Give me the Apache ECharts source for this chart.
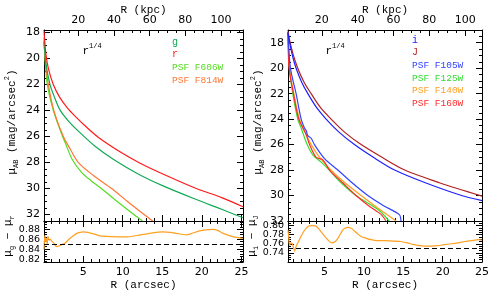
<!DOCTYPE html>
<html><head><meta charset="utf-8">
<script src="https://cdn.jsdelivr.net/npm/echarts@6.0.0/dist/echarts.min.js"></script>
<style>html,body{margin:0;padding:0;background:#fff}#c{width:492px;height:295px}</style>
</head><body><div id="c"></div>
<script>
// ---------- Left panel data (R in arcsec, surface brightness in mag/arcsec^2) ----------
const rR    = [0.05,0.3,0.6,1.2,2.0,3.0,4.0,5.2,6.9,9.6,12.2,15.5,19.3,22.5,25.2];
const rMag  = [17.9,19.7,20.75,21.95,22.95,23.8,24.45,25.15,26.05,27.15,28.05,29.0,30.0,30.7,31.4];
const gR    = [0.05,0.3,0.81,1.3,2.07,3.2,4.59,6.5,8.8,12.0,15.1,19.3,22.5,25.2];
const gMag  = [18.7,20.4,22.0,22.85,23.95,24.85,25.7,26.75,27.75,28.9,29.8,30.85,31.6,32.25];
const f606R   = [0.05,0.18,0.47,1.23,2.4,2.75,3.6,4.8,6.0,7.3,9.3,11.4,12.5];
const f606Mag = [18.4,20.0,22.0,24.0,26.0,26.5,27.75,28.75,29.4,30.0,31.0,32.0,32.5];
const f814R   = [0.05,0.2,0.6,1.3,2.5,3.4,4.4,6.3,8.6,10.6,12.7,13.8];
const f814Mag = [18.6,20.0,22.0,24.0,26.0,27.0,28.0,29.0,30.0,31.0,32.0,32.5];
// colour g - r
const grR   = [0.05,0.15,0.25,0.35,0.45,0.55,0.7,0.85,1.0,1.3,1.65,2.0,2.7,3.2,3.75,4.2,4.6,5.0,5.6,6.7,7.1,8.0,9.6,10.6,12.0,13.4,15.1,16.0,16.8,18.0,18.6,19.7,20.5,21.4,22.0,22.7,24.0,25.2];
const grVal = [0.84,0.868,0.855,0.862,0.85,0.866,0.858,0.86,0.857,0.852,0.845,0.847,0.852,0.86,0.867,0.872,0.874,0.875,0.874,0.869,0.867,0.866,0.865,0.865,0.868,0.872,0.875,0.874,0.872,0.869,0.871,0.877,0.879,0.88,0.878,0.872,0.865,0.862];

// ---------- Right panel data ----------
const iR    = [0.36,0.6,1.0,1.39,2.1,2.88,4.0,5.2,6.8,8.8,11.2,13.9,17.8,22.4,25.0];
const iMag  = [17.2,18.1,19.2,20.0,21.1,22.0,23.1,24.0,25.0,26.0,27.0,28.0,29.0,30.0,30.4];
const jR    = [0.36,0.6,1.0,1.6,2.4,3.3,4.5,5.84,7.5,9.65,12.3,15.2,19.6,25.0];
const jMag  = [17.1,17.9,18.9,20.0,21.1,22.0,23.1,24.0,25.0,26.0,27.0,28.0,29.0,30.05];
const f105R   = [0.36,0.67,1.39,2.03,2.45,2.67,2.88,3.3,3.72,5.0,6.69,8.5,10.5,12.5,14.5,14.7];
const f105Mag = [17.2,20.0,22.0,24.0,24.7,24.9,25.3,25.5,26.0,27.1,28.0,29.0,30.0,30.8,31.5,32.0];
const f125R   = [0.36,0.55,0.97,1.6,2.03,2.8,3.5,4.6,5.6,7.1,9.2,11.8,13.2];
const f125Mag = [17.2,20.0,22.0,24.0,24.7,26.0,26.8,27.4,28.0,29.0,30.1,31.1,32.0];
const f140R   = [0.36,0.55,1.1,1.82,2.66,3.3,4.5,5.84,7.6,9.65,11.8,14.1];
const f140Mag = [17.2,20.0,22.0,24.0,25.2,26.0,27.1,28.0,29.0,30.0,31.0,32.0];
const f160R   = [0.36,0.5,1.05,1.73,2.66,3.1,3.94,4.78,5.63,7.3,9.0,10.6,12.2,12.8];
const f160Mag = [17.2,20.0,22.0,24.0,25.2,26.0,27.0,27.2,28.0,29.0,30.0,30.8,31.5,32.0];
// colour i - J
const ijR   = [0.36,0.45,0.55,0.7,0.9,1.05,1.2,1.4,1.7,2.0,2.4,2.7,3.0,3.3,3.6,3.9,4.3,4.57,5.0,5.4,5.9,6.3,6.7,7.0,7.3,7.6,7.95,8.4,8.8,9.2,9.65,10.3,10.9,11.7,12.6,13.6,14.7,15.5,16.4,17.0,17.7,18.5,19.4,20.2,21.1,22.0,22.8,23.7,24.5,25.0];
const ijVal = [0.79,0.775,0.757,0.762,0.76,0.752,0.744,0.755,0.765,0.776,0.788,0.795,0.799,0.8,0.8,0.799,0.792,0.786,0.777,0.769,0.762,0.764,0.772,0.781,0.79,0.794,0.796,0.794,0.788,0.782,0.776,0.772,0.769,0.767,0.767,0.766,0.765,0.762,0.758,0.756,0.755,0.755,0.756,0.758,0.76,0.762,0.765,0.767,0.769,0.768];

// ---------- ticks ----------
const arcsecTicks = [5,10,15,20,25];
const kpcTicks = [20,40,60,80,100];
const magTicks = [18,20,22,24,26,28,30,32];
const grTicks = [0.82,0.84,0.86,0.88];
const ijTicks = [0.74,0.76,0.78,0.80];
const refLevels = [0.85, 0.75];

// ---------- layout ----------
const grids = [
  {left:44, top:30, width:199, height:191},
  {left:44, top:221, width:199, height:41},
  {left:288, top:30, width:194, height:191},
  {left:288, top:221, width:194, height:41}
];
const xRange = [[0.05,25.2],[0.05,25.2],[0.36,25.0],[0.36,25.0]];
const kpcRange = [[0.8,112.3],null,[1.1,109.4],null];
const yRange = [[17.8,32.5],[0.814,0.897],[17.0,32.0],[0.72,0.81]];

function steps(min, max, step) {
  const out = [];
  for (let v = Math.ceil(min/step - 1e-9)*step; v <= max + 1e-9; v += step) out.push(+v.toFixed(4));
  return out;
}
function pair(gi, pos, min, max, majors, minors, labels, inverse, margin, fmt, fs, interval) {
  const base = {type:'value', gridIndex:gi, position:pos, min:min, max:max, inverse:!!inverse,
    splitLine:{show:false}, minorTick:{show:false}, axisPointer:{show:false}, scale:true};
  const tick = {show:true, inside:true, length:6, lineStyle:{color:'#000', width:1}};
  const lab = {show:labels, margin:margin, formatter:fmt||(v=>String(v)),
      showMinLabel:true, showMaxLabel:true, hideOverlap:false,
      fontFamily:'DejaVu Sans', fontSize:fs||11, lineHeight:fs < 10 ? 8 : 13, color:'#000'};
  const major = Object.assign({}, base, {
    axisLine:{show:true, onZero:false, lineStyle:{color:'#000', width:1}},
    axisTick:tick, axisLabel:lab
  });
  if (interval) {
    major.interval = interval;
    lab.formatter = v => (majors.some(m => Math.abs(m - v) < 1e-6) ? fmt(v) : '');
  } else {
    tick.customValues = majors;
    lab.customValues = majors;
  }
  const minor = Object.assign({}, base, {
    axisLine:{show:false, onZero:false},
    axisTick:{show:true, inside:true, length:3, customValues:minors, lineStyle:{color:'#000', width:1}},
    axisLabel:{show:false}
  });
  return [major, minor];
}
const xAxes = [], yAxes = [];
for (let gi = 0; gi < 4; gi++) {
  const upper = gi % 2 === 0;
  const [x0, x1] = xRange[gi];
  xAxes.push(...pair(gi, 'bottom', x0, x1, arcsecTicks, steps(x0, x1, 1), !upper, false, 4, null, 11));
  if (upper) {
    const [k0, k1] = kpcRange[gi];
    xAxes.push(...pair(gi, 'top', k0, k1, kpcTicks, steps(k0, k1, 5), true, false, 3, null, 11));
  } else {
    xAxes.push(...pair(gi, 'top', x0, x1, arcsecTicks, steps(x0, x1, 1), false, false, 4, null, 11));
  }
  const [y0, y1] = yRange[gi];
  const maj = upper ? magTicks : (gi === 1 ? grTicks : ijTicks);
  const minStep = upper ? 0.5 : 0.005;
  const fmt = upper ? (v => String(v)) : (v => v.toFixed(2));
  const fs = upper ? 11 : 9.5;
  const iv = gi === 3 ? 0.02 : null;
  yAxes.push(...pair(gi, 'left', y0, y1, maj, steps(y0, y1, minStep), true, upper, 4, fmt, fs, iv));
  yAxes.push(...pair(gi, 'right', y0, y1, maj, steps(y0, y1, minStep), false, upper, 4, fmt, fs, iv));
}

function zip(a, b) { return a.map((v, i) => [v, b[i]]); }
function line(gi, name, xs, ys, color, extra) {
  return Object.assign({type:'line', name:name, xAxisIndex:gi*4, yAxisIndex:gi*4, data:zip(xs, ys),
    showSymbol:false, symbol:'none', clip:true, smooth:0.3,
    lineStyle:{color:color, width:1.2}, itemStyle:{color:color}, z:3}, extra||{});
}
function dashed(v) {
  return {silent:true, symbol:['none','none'], label:{show:false}, animation:false,
    lineStyle:{type:[5,3], color:'#000', width:1}, data:[{yAxis:v}]};
}
const C = {g:'#11aa55', r:'#ff1a1a', f606:'#55dd22', f814:'#ff7733', orange:'#ffa020',
  i:'#2020ff', J:'#b22222', f105:'#3344ff', f125:'#33dd33', f140:'#ffa020', f160:'#ff2a2a'};

const series = [
  line(0, 'PSF F606W', f606R, f606Mag, C.f606),
  line(0, 'PSF F814W', f814R, f814Mag, C.f814),
  line(0, 'g', gR, gMag, C.g),
  line(0, 'r', rR, rMag, C.r),
  line(1, 'g-r', grR, grVal, C.orange, {smooth:0.2, markLine:dashed(refLevels[0])}),
  line(2, 'PSF F125W', f125R, f125Mag, C.f125),
  line(2, 'PSF F140W', f140R, f140Mag, C.f140),
  line(2, 'PSF F160W', f160R, f160Mag, C.f160),
  line(2, 'PSF F105W', f105R, f105Mag, C.f105),
  line(2, 'J', jR, jMag, C.J),
  line(2, 'i', iR, iMag, C.i),
  line(3, 'i-J', ijR, ijVal, C.orange, {smooth:0.2, markLine:dashed(refLevels[1])})
];

const MONO = 'Liberation Mono';
function txt(x, y, text, color, size, align) {
  return {type:'text', x:x, y:y, silent:true, z:10,
    style:{text:text, fill:color, font: size + 'px "' + MONO + '"', textAlign:align||'left', textVerticalAlign:'middle'}};
}
function rtxt(x, y, text, rich, rot) {
  return {type:'text', x:x, y:y, rotation:rot||0, silent:true, z:10,
    style:{text:text, rich:rich, fill:'#000', textAlign:'center', textVerticalAlign:'middle'}};
}
const richY = {
  m:{fontFamily:MONO, fontSize:11, lineHeight:16, fill:'#000', verticalAlign:'middle'},
  s:{fontFamily:MONO, fontSize:7, lineHeight:16, fill:'#000', verticalAlign:'bottom'},
  p:{fontFamily:MONO, fontSize:7, lineHeight:16, fill:'#000', verticalAlign:'top'}
};
const richQ = {
  m:{fontFamily:MONO, fontSize:11, lineHeight:16, fill:'#000', verticalAlign:'middle'},
  p:{fontFamily:MONO, fontSize:7, lineHeight:16, fill:'#000', verticalAlign:'top'}
};
const graphic = [
  txt(143.5, 10, 'R (kpc)', '#000', 11, 'center'),
  txt(385, 10, 'R (kpc)', '#000', 11, 'center'),
  txt(143.5, 285, 'R (arcsec)', '#000', 11, 'center'),
  txt(385, 285, 'R (arcsec)', '#000', 11, 'center'),
  rtxt(12, 122, '{m|μ}{s|AB}{m| (mag/arcsec}{p|2}{m|)}', richY, Math.PI/2),
  rtxt(258, 122, '{m|μ}{s|AB}{m| (mag/arcsec}{p|2}{m|)}', richY, Math.PI/2),
  rtxt(8, 236, '{m|μ}{s|g}{m| − μ}{s|r}', richY, Math.PI/2),
  rtxt(252, 236, '{m|μ}{s|i}{m| − μ}{s|J}', richY, Math.PI/2),
  rtxt(92, 51, '{m|r}{p|1/4}', richQ, 0),
  rtxt(335, 51, '{m|r}{p|1/4}', richQ, 0),
  txt(172, 42, 'g', C.g, 10),
  txt(172, 54, 'r', C.r, 10),
  txt(172, 67, 'PSF F606W', C.f606, 9.5),
  txt(172, 80, 'PSF F814W', C.f814, 9.5),
  txt(412, 40, 'i', C.i, 10),
  txt(412, 52, 'J', C.J, 10),
  txt(412, 65, 'PSF F105W', C.f105, 9.5),
  txt(412, 78, 'PSF F125W', C.f125, 9.5),
  txt(412, 90.5, 'PSF F140W', C.f140, 9.5),
  txt(412, 103, 'PSF F160W', C.f160, 9.5)
];

const chart = echarts.init(document.getElementById('c'), null, {renderer:'canvas'});
chart.setOption({
  animation:false,
  backgroundColor:'#fff',
  grid:grids.map(g => Object.assign({show:false, containLabel:false}, g)),
  xAxis:xAxes,
  yAxis:yAxes,
  series:series,
  graphic:graphic
});
</script>
</body></html>
